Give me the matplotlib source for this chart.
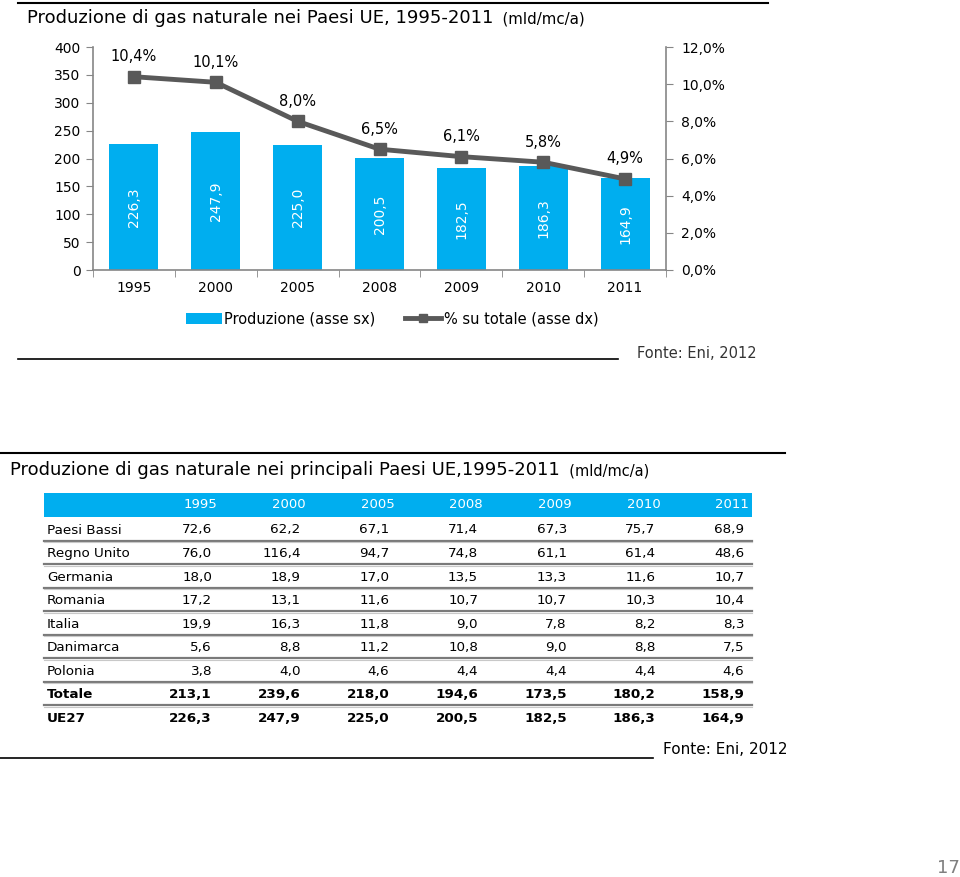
import matplotlib
matplotlib.use('Agg')
import matplotlib.pyplot as plt
from matplotlib.patches import Rectangle
from matplotlib.ticker import FixedLocator, FuncFormatter

# --- dati ---
anni = ['1995', '2000', '2005', '2008', '2009', '2010', '2011']
produzione_ue27 = [226.3, 247.9, 225.0, 200.5, 182.5, 186.3, 164.9]
quota_pct = [10.4, 10.1, 8.0, 6.5, 6.1, 5.8, 4.9]

paesi = ['Paesi Bassi', 'Regno Unito', 'Germania', 'Romania', 'Italia', 'Danimarca', 'Polonia']
paesi_bassi = [72.6, 62.2, 67.1, 71.4, 67.3, 75.7, 68.9]
regno_unito = [76.0, 116.4, 94.7, 74.8, 61.1, 61.4, 48.6]
germania = [18.0, 18.9, 17.0, 13.5, 13.3, 11.6, 10.7]
romania = [17.2, 13.1, 11.6, 10.7, 10.7, 10.3, 10.4]
italia = [19.9, 16.3, 11.8, 9.0, 7.8, 8.2, 8.3]
danimarca = [5.6, 8.8, 11.2, 10.8, 9.0, 8.8, 7.5]
polonia = [3.8, 4.0, 4.6, 4.4, 4.4, 4.4, 4.6]
totale = [213.1, 239.6, 218.0, 194.6, 173.5, 180.2, 158.9]

BLU = '#00AEEF'
GRIGIO_LINEA = '#595959'
GRIGIO_ASSE = '#868686'


def it(v, dec=1):
    return f"{v:.{dec}f}".replace('.', ',')


W, H = 960, 877
fig = plt.figure(figsize=(W / 100, H / 100), dpi=100)
fig.patch.set_facecolor('white')

# --- pagina (coordinate in pixel) ---
page = fig.add_axes([0, 0, 1, 1], zorder=-1)
page.set_xlim(0, W)
page.set_ylim(H, 0)
page.axis('off')
page.patch.set_visible(False)

# --- GRAFICO ---
ax = fig.add_axes([93 / W, 1 - 270 / H, (666 - 93) / W, (270 - 47) / H])
x = list(range(len(anni)))
barre = ax.bar(x, produzione_ue27, width=0.6, color=BLU, zorder=2)
ax.set_xlim(-0.5, len(anni) - 0.5)
ax.set_ylim(0, 400)
ax.set_yticks(range(0, 401, 50))
ax.set_xticks(x)
ax.set_xticklabels(anni, fontsize=10)
ax.xaxis.set_minor_locator(FixedLocator([i - 0.5 for i in range(len(anni) + 1)]))
ax.tick_params(axis='x', which='major', length=0, pad=8)
ax.tick_params(axis='x', which='minor', length=5, color=GRIGIO_ASSE, direction='out')
ax.tick_params(axis='y', length=5, color=GRIGIO_ASSE, labelsize=10, pad=4)
for s in ['top', 'right']:
    ax.spines[s].set_visible(False)
for s in ['left', 'bottom']:
    ax.spines[s].set_color(GRIGIO_ASSE)
    ax.spines[s].set_linewidth(1.2)

for xi, v in zip(x, produzione_ue27):
    ax.text(xi, v / 2, it(v), rotation=90, ha='center', va='center',
            color='white', fontsize=10, zorder=3)

ax2 = ax.twinx()
ax2.set_ylim(0, 12)
ax2.set_yticks(range(0, 13, 2))
ax2.yaxis.set_major_formatter(FuncFormatter(lambda v, p: it(v) + '%'))
ax2.tick_params(axis='y', length=5, color=GRIGIO_ASSE, labelsize=10, pad=6)
for s in ['top', 'left', 'bottom']:
    ax2.spines[s].set_visible(False)
ax2.spines['right'].set_color(GRIGIO_ASSE)
ax2.spines['right'].set_linewidth(1.2)
linea, = ax2.plot(x, quota_pct, color=GRIGIO_LINEA, lw=3.5, marker='s', ms=8.5, zorder=4)
for xi, v in zip(x, quota_pct):
    ax2.annotate(it(v) + '%', (xi, v), xytext=(0, 9), textcoords='offset points',
                 ha='center', va='bottom', fontsize=10.5)

# titolo grafico
page.plot([18, 768], [3, 3], color='black', lw=1.5)
t = page.text(27, 18, 'Produzione di gas naturale nei Paesi UE, 1995-2011', fontsize=13,
              va='center', ha='left')
page.annotate('  (mld/mc/a)', xycoords=t, xy=(1, 0.45), va='center', ha='left', fontsize=10.8)

# legenda
fig.legend([barre, linea], ['Produzione (asse sx)', '% su totale (asse dx)'],
           loc='center', bbox_to_anchor=(392 / W, 1 - 319 / H), ncol=2, frameon=False,
           prop={'size': 10.5}, handlelength=2.5, handletextpad=0.15,
           columnspacing=2.0, markerscale=0.7)

page.plot([18, 618], [359, 359], color='black', lw=1.2)
page.text(637, 353, 'Fonte: Eni, 2012', fontsize=10.5, color='#333333',
          va='center', ha='left')

# --- TABELLA ---
page.plot([0, 785], [453, 453], color='black', lw=1.5)
t2 = page.text(10, 470, 'Produzione di gas naturale nei principali Paesi UE,1995-2011',
               fontsize=13, va='center', ha='left')
page.annotate('  (mld/mc/a)', xycoords=t2, xy=(1, 0.42), va='center', ha='left',
              fontsize=10.5)

righe = [paesi_bassi, regno_unito, germania, romania, italia, danimarca, polonia]
etichette = paesi + ['Totale', 'UE27']
valori = righe + [totale, produzione_ue27]

tab_x0, tab_x1 = 44, 752
col_dx = 88.7
col_right = [212 + i * col_dx for i in range(len(anni))]
row0, row_dy = 530, 23.55

page.add_patch(Rectangle((tab_x0, 493), tab_x1 - tab_x0, 24, color=BLU, lw=0))
for cx, a in zip(col_right, anni):
    page.text(cx + 5, 505, a, color='white', fontsize=9.5, ha='right', va='center')

for r, (lab, vals) in enumerate(zip(etichette, valori)):
    y = row0 + r * row_dy
    peso = 'bold' if lab in ('Totale', 'UE27') else 'normal'
    page.text(47, y, lab, fontsize=9.7, ha='left', va='center', weight=peso)
    for cx, v in zip(col_right, vals):
        page.text(cx, y, it(v), fontsize=9.7, ha='right', va='center', weight=peso)
    if r < len(etichette) - 1:
        page.plot([tab_x0, tab_x1], [y + 10.5, y + 10.5], color='#7a7a7a', lw=1.6)
        page.plot([tab_x0, tab_x1], [y + 12, y + 12], color='#c8c8c8', lw=0.8)

page.plot([0, 653], [758, 758], color='black', lw=1.2)
page.text(663, 750, 'Fonte: Eni, 2012', fontsize=11, va='center', ha='left')

page.text(948, 868, '17', fontsize=13, color='#7f7f7f', ha='center', va='center')

fig.savefig('out.png', dpi=100)
